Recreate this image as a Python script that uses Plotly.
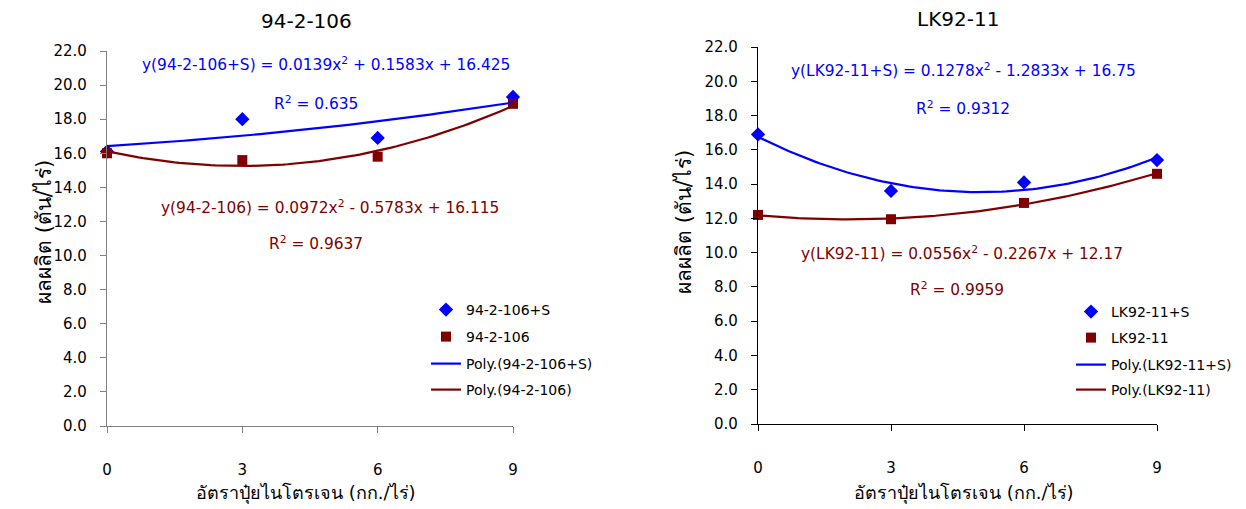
import numpy as np
import plotly.graph_objects as go

# ---- data ----
n_rate = [0, 3, 6, 9]
x_ticks = ["0", "3", "6", "9"]
y_ticks = [0, 2, 4, 6, 8, 10, 12, 14, 16, 18, 20, 22]

left_title = "94-2-106"
left_s = [16.1, 18.0, 16.9, 19.3]      # 94-2-106+S
left_n = [16.0, 15.6, 15.8, 18.9]      # 94-2-106
left_s_coef = [0.0139, 0.1583, 16.425]
left_n_coef = [0.0972, -0.5783, 16.115]

right_title = "LK92-11"
right_s = [16.9, 13.6, 14.1, 15.4]     # LK92-11+S
right_n = [12.2, 11.95, 12.9, 14.6]    # LK92-11
right_s_coef = [0.1278, -1.2833, 16.75]
right_n_coef = [0.0556, -0.2267, 12.17]

BLUE = "#0000FF"
RED = "#800000"
FONT = "DejaVu Sans"
W, H = 1246, 509
OFF = 8  # default page body margin

def px_x(p):
    return (p - OFF) / W

def px_y(p):
    return 1 - (p - OFF) / H

xs = np.linspace(0, 9, 91)

fig = go.Figure()

panels = [
    dict(ax="", legs=["legend", "legend2", "legend3", "legend4"], title=left_title,
         s=left_s, n=left_n, sc=left_s_coef, nc=left_n_coef,
         names=["94-2-106+S", "94-2-106", "Poly.(94-2-106+S)", "Poly.(94-2-106)"],
         xdom=[px_x(107), px_x(513)], ydom=[px_y(426), px_y(51)], axcol="#808080",
         legx=426, legy=[310, 337, 364, 390]),
    dict(ax="2", legs=["legend5", "legend6", "legend7", "legend8"], title=right_title,
         s=right_s, n=right_n, sc=right_s_coef, nc=right_n_coef,
         names=["LK92-11+S", "LK92-11", "Poly.(LK92-11+S)", "Poly.(LK92-11)"],
         xdom=[px_x(758), px_x(1157)], ydom=[px_y(424), px_y(47)], axcol="#000000",
         legx=1071, legy=[312, 338, 365, 390]),
]

leg_layout = {}
for p in panels:
    xa = "x" + p["ax"]
    ya = "y" + p["ax"]
    fig.add_trace(go.Scatter(x=n_rate, y=p["s"], mode="markers", name=p["names"][0],
                             marker=dict(symbol="diamond", size=11, color=BLUE),
                             xaxis=xa, yaxis=ya, legend=p["legs"][0], cliponaxis=False,
                             showlegend=True))
    fig.add_trace(go.Scatter(x=n_rate, y=p["n"], mode="markers", name=p["names"][1],
                             marker=dict(symbol="square", size=10, color=RED),
                             xaxis=xa, yaxis=ya, legend=p["legs"][1], cliponaxis=False,
                             showlegend=True))
    fig.add_trace(go.Scatter(x=xs, y=np.polyval(p["sc"], xs), mode="lines", name=p["names"][2],
                             line=dict(color=BLUE, width=2.2),
                             xaxis=xa, yaxis=ya, legend=p["legs"][2], cliponaxis=False,
                             showlegend=True))
    fig.add_trace(go.Scatter(x=xs, y=np.polyval(p["nc"], xs), mode="lines", name=p["names"][3],
                             line=dict(color=RED, width=2.2),
                             xaxis=xa, yaxis=ya, legend=p["legs"][3], cliponaxis=False,
                             showlegend=True))
    for lg, ly in zip(p["legs"], p["legy"]):
        leg_layout[lg] = dict(font=dict(family=FONT, size=14, color="#000"),
                              bgcolor="rgba(0,0,0,0)", itemwidth=30,
                              xanchor="left", yanchor="middle",
                              x=px_x(p["legx"]), y=px_y(ly))

axis_common_x = dict(range=[0, 9], tickmode="array", tickvals=n_rate, ticktext=x_ticks,
                     showgrid=False, zeroline=False, showline=True, linewidth=1.3,
                     ticks="outside", ticklen=6, tickwidth=1, automargin=False,
                     tickfont=dict(family=FONT, size=15, color="#000"),
                     ticklabelstandoff=24, fixedrange=True)
axis_common_y = dict(range=[0, 22], tickmode="array", tickvals=y_ticks,
                     tickformat=".1f", showgrid=False, zeroline=False, showline=True,
                     linewidth=1.3, ticks="outside", ticklen=6, tickwidth=1, automargin=False,
                     tickfont=dict(family=FONT, size=15, color="#000"),
                     ticklabelstandoff=10, fixedrange=True)

fig.update_layout(
    showlegend=True,
    xaxis=dict(axis_common_x, domain=panels[0]["xdom"], anchor="y",
               linecolor=panels[0]["axcol"], tickcolor=panels[0]["axcol"]),
    yaxis=dict(axis_common_y, domain=panels[0]["ydom"], anchor="x",
               linecolor=panels[0]["axcol"], tickcolor=panels[0]["axcol"]),
    xaxis2=dict(axis_common_x, domain=panels[1]["xdom"], anchor="y2",
                linecolor=panels[1]["axcol"], tickcolor=panels[1]["axcol"]),
    yaxis2=dict(axis_common_y, domain=panels[1]["ydom"], anchor="x2",
                linecolor=panels[1]["axcol"], tickcolor=panels[1]["axcol"]),
    **leg_layout,
)

ann = []
def txt(x, y, t, color="#000", size=15, angle=0):
    ann.append(dict(x=px_x(x), y=px_y(y), xref="paper", yref="paper", text=t,
                    showarrow=False, xanchor="center", yanchor="middle", textangle=angle,
                    font=dict(family=FONT, size=size, color=color)))

# titles
txt(306, 21, left_title, size=20)
txt(958, 19, right_title, size=20)
# axis titles
txt(306, 493, "อัตราปุ๋ยไนโตรเจน (กก./ไร่)", size=18)
txt(964, 493, "อัตราปุ๋ยไนโตรเจน (กก./ไร่)", size=18)
txt(44, 232, "ผลผลิต (ตัน/ไร่)", size=21, angle=-90)
txt(684, 222, "ผลผลิต (ตัน/ไร่)", size=21, angle=-90)
# trendline equations
EQ = 15.4
txt(326, 64, "y(94-2-106+S) = 0.0139x<sup>2</sup> + 0.1583x + 16.425", BLUE, EQ)
txt(316, 103, "R<sup>2</sup> = 0.635", BLUE, EQ)
txt(330, 207, "y(94-2-106) = 0.0972x<sup>2</sup> - 0.5783x + 16.115", RED, EQ)
txt(316, 243, "R<sup>2</sup> = 0.9637", RED, EQ)
txt(963, 70, "y(LK92-11+S) = 0.1278x<sup>2</sup> - 1.2833x + 16.75", BLUE, EQ)
txt(963, 108, "R<sup>2</sup> = 0.9312", BLUE, EQ)
txt(962, 253, "y(LK92-11) = 0.0556x<sup>2</sup> - 0.2267x + 12.17", RED, EQ)
txt(957, 289, "R<sup>2</sup> = 0.9959", RED, EQ)

fig.update_layout(annotations=ann, width=W, height=H,
                  margin=dict(l=0, r=0, t=0, b=0),
                  paper_bgcolor="white", plot_bgcolor="white",
                  font=dict(family=FONT))

fig.write_html("out.html")
